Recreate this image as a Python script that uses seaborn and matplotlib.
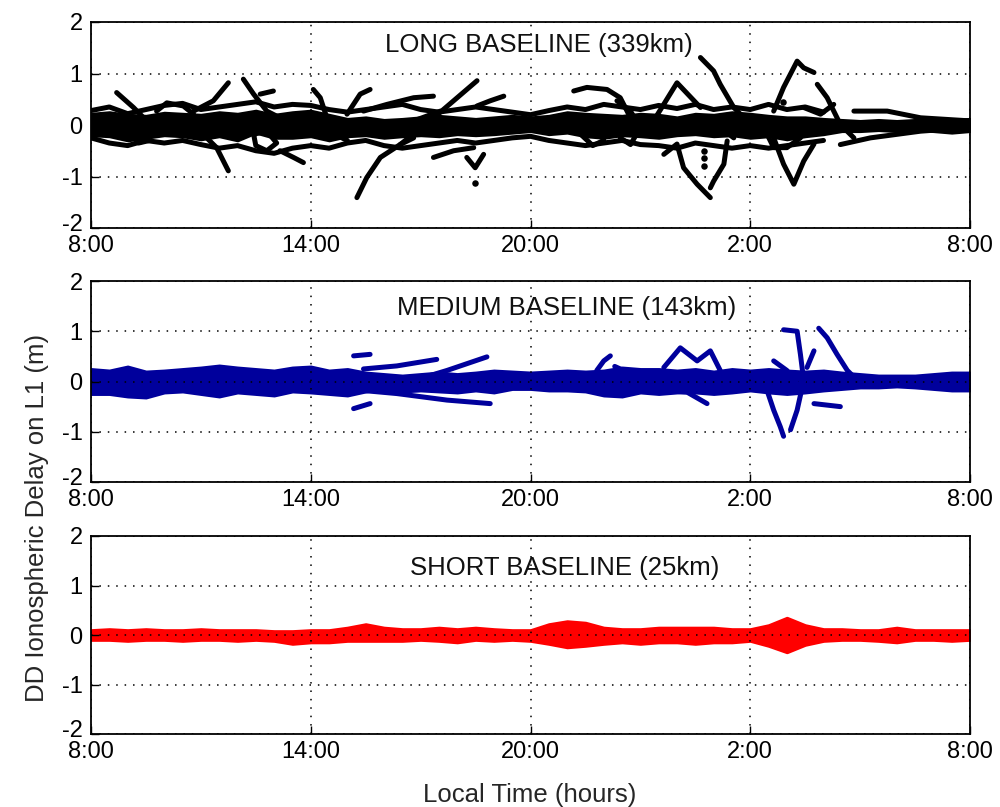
import numpy as np
import pandas as pd
import matplotlib
matplotlib.use("Agg")
import matplotlib.pyplot as plt
import matplotlib.transforms as mtransforms
import seaborn as sns

sns.set_theme(style="white")
plt.rcParams['font.family'] = ['Liberation Sans', 'DejaVu Sans']

# ---------------- data ----------------
HOURS = [8.0, 8.5, 9.0, 9.5, 10.0, 10.5, 11.0, 11.5, 12.0, 12.5, 13.0, 13.5, 14.0, 14.5,
         15.0, 15.5, 16.0, 16.5, 17.0, 17.5, 18.0, 18.5, 19.0, 19.5, 20.0, 20.5, 21.0,
         21.5, 22.0, 22.5, 23.0, 23.5, 24.0, 24.5, 25.0, 25.5, 26.0, 26.5, 27.0, 27.5,
         28.0, 28.5, 29.0, 29.5, 30.0, 30.5, 31.0, 31.5, 32.0]

LONG_UPPER = [0.22, 0.25, 0.20, 0.18, 0.24, 0.22, 0.20, 0.25, 0.22, 0.28, 0.20, 0.25, 0.28,
              0.20, 0.12, 0.15, 0.10, 0.12, 0.15, 0.18, 0.15, 0.12, 0.15, 0.18, 0.15, 0.18,
              0.25, 0.22, 0.20, 0.18, 0.22, 0.20, 0.15, 0.22, 0.20, 0.25, 0.22, 0.18, 0.15,
              0.15, 0.12, 0.10, 0.08, 0.10, 0.08, 0.10, 0.12, 0.10, 0.12]
LONG_LOWER = [-0.20, -0.22, -0.30, -0.25, -0.20, -0.22, -0.28, -0.22, -0.30, -0.15, -0.25,
              -0.25, -0.22, -0.30, -0.22, -0.20, -0.25, -0.22, -0.20, -0.22, -0.18, -0.20,
              -0.18, -0.15, -0.12, -0.18, -0.15, -0.22, -0.25, -0.20, -0.22, -0.25, -0.20,
              -0.18, -0.22, -0.20, -0.25, -0.22, -0.28, -0.22, -0.18, -0.12, -0.12, -0.10,
              -0.12, -0.10, -0.12, -0.15, -0.12]

# outer arcs that wrap the dense long-baseline band (8:00 to 4:00)
LONG_EDGE_HOURS = HOURS[:41]
LONG_EDGE_UP = [0.28, 0.35, 0.22, 0.30, 0.38, 0.42, 0.30, 0.35, 0.40, 0.45, 0.35, 0.40,
                0.38, 0.30, 0.25, 0.30, 0.35, 0.40, 0.30, 0.25, 0.30, 0.35, 0.30, 0.25,
                0.20, 0.28, 0.35, 0.30, 0.40, 0.35, 0.30, 0.38, 0.32, 0.40, 0.30, 0.35,
                0.30, 0.40, 0.30, 0.35, 0.25]
LONG_EDGE_LO = [-0.25, -0.35, -0.40, -0.30, -0.35, -0.30, -0.38, -0.45, -0.40, -0.50,
                -0.55, -0.45, -0.40, -0.45, -0.35, -0.30, -0.40, -0.45, -0.40, -0.35,
                -0.30, -0.35, -0.30, -0.25, -0.22, -0.30, -0.35, -0.40, -0.35, -0.30,
                -0.38, -0.40, -0.45, -0.35, -0.40, -0.45, -0.40, -0.45, -0.40, -0.35,
                -0.30]

MEDIUM_UPPER = [0.25, 0.22, 0.30, 0.20, 0.22, 0.25, 0.28, 0.32, 0.28, 0.25, 0.22, 0.28, 0.30,
                0.22, 0.25, 0.18, 0.15, 0.12, 0.15, 0.18, 0.15, 0.18, 0.22, 0.20, 0.18, 0.20,
                0.22, 0.20, 0.22, 0.28, 0.25, 0.25, 0.22, 0.25, 0.20, 0.25, 0.22, 0.25, 0.22,
                0.20, 0.22, 0.18, 0.15, 0.12, 0.12, 0.12, 0.15, 0.18, 0.18]
MEDIUM_LOWER = [-0.25, -0.25, -0.30, -0.32, -0.22, -0.20, -0.25, -0.30, -0.22, -0.25, -0.28,
                -0.20, -0.22, -0.25, -0.28, -0.20, -0.15, -0.20, -0.18, -0.20, -0.22, -0.18,
                -0.22, -0.15, -0.15, -0.18, -0.18, -0.20, -0.28, -0.30, -0.22, -0.25, -0.22,
                -0.22, -0.25, -0.22, -0.18, -0.22, -0.25, -0.22, -0.18, -0.15, -0.12, -0.12,
                -0.10, -0.12, -0.15, -0.18, -0.18]

SHORT_UPPER = [0.10, 0.12, 0.10, 0.12, 0.10, 0.10, 0.12, 0.10, 0.10, 0.10, 0.08, 0.08, 0.10,
               0.10, 0.15, 0.22, 0.15, 0.12, 0.12, 0.15, 0.12, 0.15, 0.12, 0.10, 0.10, 0.22,
               0.28, 0.25, 0.15, 0.12, 0.12, 0.15, 0.15, 0.15, 0.15, 0.12, 0.12, 0.20, 0.35,
               0.20, 0.12, 0.12, 0.10, 0.10, 0.15, 0.10, 0.10, 0.10, 0.10]
SHORT_LOWER = [-0.10, -0.10, -0.12, -0.10, -0.10, -0.12, -0.10, -0.10, -0.12, -0.10, -0.12,
               -0.18, -0.15, -0.15, -0.12, -0.12, -0.12, -0.12, -0.10, -0.12, -0.15, -0.10,
               -0.12, -0.10, -0.12, -0.18, -0.25, -0.22, -0.18, -0.15, -0.18, -0.15, -0.15,
               -0.18, -0.15, -0.15, -0.12, -0.22, -0.35, -0.20, -0.12, -0.10, -0.10, -0.12,
               -0.15, -0.10, -0.10, -0.12, -0.10]

# individual satellite-pair tracks: (hours, values)
LONG_TRACKS = [
    (LONG_EDGE_HOURS, LONG_EDGE_UP),
    (LONG_EDGE_HOURS, LONG_EDGE_LO),
    ([8.70, 9.16, 9.52], [0.63, 0.34, 0.08]),
    ([9.79, 10.07, 10.52, 10.80], [0.27, 0.43, 0.37, 0.21]),
    ([10.80, 11.34, 11.75], [0.27, 0.47, 0.82]),
    ([12.16, 12.44, 12.80, 13.16], [0.89, 0.60, 0.27, 0.14]),
    ([12.62, 12.98], [0.60, 0.66]),
    ([11.16, 11.43, 11.75], [-0.25, -0.44, -0.89]),
    ([13.16, 13.53, 13.80], [-0.50, -0.63, -0.73]),
    ([14.07, 14.26, 14.44], [0.69, 0.53, 0.14]),
    ([12.44, 12.80, 13.07, 12.80, 12.50, 12.44], [-0.18, -0.12, -0.35, -0.50, -0.40, -0.18]),
    ([15.26, 15.53, 15.90, 16.44, 16.81], [-1.41, -1.02, -0.63, -0.38, -0.25]),
    ([14.99, 15.35, 15.62], [0.21, 0.60, 0.69]),
    ([15.44, 16.08, 16.81, 17.35], [0.27, 0.40, 0.53, 0.56]),
    ([15.62, 16.81, 17.54], [-0.01, 0.08, 0.27]),
    ([16.44, 17.26, 17.90, 18.54], [-0.38, 0.08, 0.47, 0.86]),
    ([18.54, 18.90, 19.27], [0.37, 0.47, 0.56]),
    ([17.35, 17.90, 18.45], [-0.63, -0.50, -0.44]),
    ([18.26, 18.49, 18.72], [-0.63, -0.83, -0.57]),
    ([14.30, 14.70, 15.00], [0.10, -0.20, -0.30]),
    ([9.00, 9.30, 9.60], [-0.10, -0.35, -0.30]),
    ([21.18, 21.54, 22.09, 22.45, 22.73], [0.66, 0.73, 0.69, 0.53, 0.14]),
    ([21.30, 21.80, 22.00, 21.70, 21.40], [0.10, 0.00, -0.30, -0.40, -0.20]),
    ([22.36, 22.73, 23.00, 22.73, 22.45], [0.47, 0.27, -0.05, -0.38, -0.25]),
    ([23.36, 24.00, 24.64], [0.08, 0.82, 0.34]),
    ([24.64, 25.00, 25.18, 25.55, 25.73], [1.31, 1.05, 0.79, 0.34, 0.21]),
    ([23.64, 24.00, 24.18, 24.55, 24.91], [-0.57, -0.37, -0.83, -1.15, -1.41]),
    ([25.37, 25.28, 25.00, 24.91], [-0.31, -0.76, -1.09, -1.22]),
    ([24.55, 24.82, 25.18, 25.55], [0.14, 0.08, -0.05, -0.25]),
    ([26.64, 26.91, 27.28, 27.46, 27.74], [0.27, 0.73, 1.24, 1.11, 1.02]),
    ([26.64, 26.91, 27.19, 27.46, 27.74], [-0.25, -0.76, -1.15, -0.70, -0.37]),
    ([27.83, 28.10, 28.46, 28.83], [0.79, 0.53, 0.01, -0.25]),
    ([27.46, 27.92, 28.28], [0.34, 0.21, 0.40]),
    ([28.83, 29.74, 30.65, 32.00], [0.27, 0.27, 0.14, 0.08]),
    ([28.46, 29.28, 30.65, 32.00], [-0.38, -0.25, -0.12, -0.05]),
    ([26.28, 26.64, 27.00, 27.37], [0.08, -0.44, -0.44, -0.25]),
]
LONG_DOTS_H = [24.73, 24.73, 24.73, 18.49, 26.90]
LONG_DOTS_V = [-0.50, -0.65, -0.80, -1.12, 0.45]

MEDIUM_TRACKS = [
    ([15.17, 15.62], [0.51, 0.54]),
    ([15.44, 16.35, 17.44], [0.25, 0.31, 0.44]),
    ([16.81, 17.72, 18.81], [0.02, 0.22, 0.49]),
    ([15.17, 15.62], [-0.54, -0.44]),
    ([15.44, 16.35, 17.72, 18.90], [-0.18, -0.24, -0.37, -0.44]),
    ([21.81, 22.00, 22.18], [0.22, 0.41, 0.51]),
    ([23.64, 24.09, 24.55, 24.91, 25.18], [0.28, 0.67, 0.41, 0.61, 0.22]),
    ([23.82, 24.27, 24.82], [-0.18, -0.21, -0.44]),
    ([26.91, 27.28, 27.37, 27.46, 27.28, 27.10], [1.03, 1.00, 0.54, 0.02, -0.57, -0.96]),
    ([26.46, 26.64, 26.82, 26.91], [-0.18, -0.57, -0.90, -1.09]),
    ([26.64, 27.00, 27.28], [0.41, 0.22, -0.05]),
    ([27.87, 28.10, 28.37, 28.65, 28.83], [1.06, 0.87, 0.54, 0.22, 0.09]),
    ([27.74, 27.55], [0.61, 0.28]),
    ([27.74, 28.10, 28.46], [-0.44, -0.47, -0.50]),
    ([22.30, 22.60], [0.30, 0.20]),
]

XTICKS = [8, 14, 20, 26, 32]
XTICK_LABELS = ["8:00", "14:00", "20:00", "2:00", "8:00"]
YTICKS = [-2, -1, 0, 1, 2]

PANELS = [
    ("LONG BASELINE (339km)", "black", LONG_UPPER, LONG_LOWER, LONG_TRACKS),
    ("MEDIUM BASELINE (143km)", "#00009c", MEDIUM_UPPER, MEDIUM_LOWER, MEDIUM_TRACKS),
    ("SHORT BASELINE (25km)", "#ff0000", SHORT_UPPER, SHORT_LOWER, []),
]

# ---------------- layout ----------------
fig = plt.figure(figsize=(10, 8.07), dpi=100)
W, H = 1000, 807
boxes = [(22, 228), (281, 482), (536, 734)]
title_pos = [(0.510, 0.856), (0.5415, 0.831), (0.539, 0.803)]
left, right = 91, 970

for i, (title, color, up, lo, tracks) in enumerate(PANELS):
    top, bot = boxes[i]
    ax = fig.add_axes([left / W, 1 - bot / H, (right - left) / W, (bot - top) / H])
    ax.fill_between(HOURS, lo, up, color=color, lw=2.0, edgecolor=color, zorder=2)
    rows = []
    for k, (hh, vv) in enumerate(tracks):
        for h, v in zip(hh, vv):
            rows.append({"time": h, "value": v, "track": k})
    if rows:
        df = pd.DataFrame(rows)
        sns.lineplot(data=df, x="time", y="value", units="track", estimator=None,
                     sort=False, color=color, lw=3.6, ax=ax, zorder=3,
                     solid_capstyle="round", solid_joinstyle="round")
    if i == 0:
        sns.scatterplot(x=LONG_DOTS_H, y=LONG_DOTS_V, color=color, s=22, ax=ax,
                        zorder=3, linewidth=0)
    ax.set_xlim(8, 32)
    ax.set_ylim(-2, 2)
    ax.set_xticks(XTICKS)
    ax.set_xticklabels(XTICK_LABELS)
    ax.set_yticks(YTICKS)
    ax.set_yticklabels([str(t) for t in YTICKS])
    ax.set_xlabel("")
    ax.set_ylabel("")
    ax.grid(True, color="black", linestyle=(0, (1, 4.5)), lw=1.1)
    ax.set_axisbelow(False)
    for s in ax.spines.values():
        s.set_visible(True)
        s.set_color("black")
        s.set_linewidth(1.3)
    ax.tick_params(axis="both", direction="in", length=6, width=1, colors="black",
                   labelsize=17, bottom=True, left=True)
    ax.tick_params(axis="x", pad=5)
    ax.tick_params(axis="y", pad=6)
    # lift the bottom "-2" label a little so it sits just above the time label
    lift = mtransforms.ScaledTranslation(0, 4 / 72, fig.dpi_scale_trans)
    ylabels = ax.get_yticklabels()
    ylabels[0].set_transform(ylabels[0].get_transform() + lift)
    ax.text(title_pos[i][0], title_pos[i][1], title, transform=ax.transAxes,
            ha="center", va="baseline", fontsize=18.5, color="#111111", zorder=5)

fig.text(530 / W, 1 - 802 / H, "Local Time (hours)", ha="center", va="baseline",
         fontsize=18.5)
fig.text(37 / W, 1 - 334 / H, "DD Ionospheric Delay on L1 (m)", ha="right",
         va="center", rotation=90, fontsize=18.5, rotation_mode="anchor")

fig.savefig("out.png", dpi=100, facecolor="white")
